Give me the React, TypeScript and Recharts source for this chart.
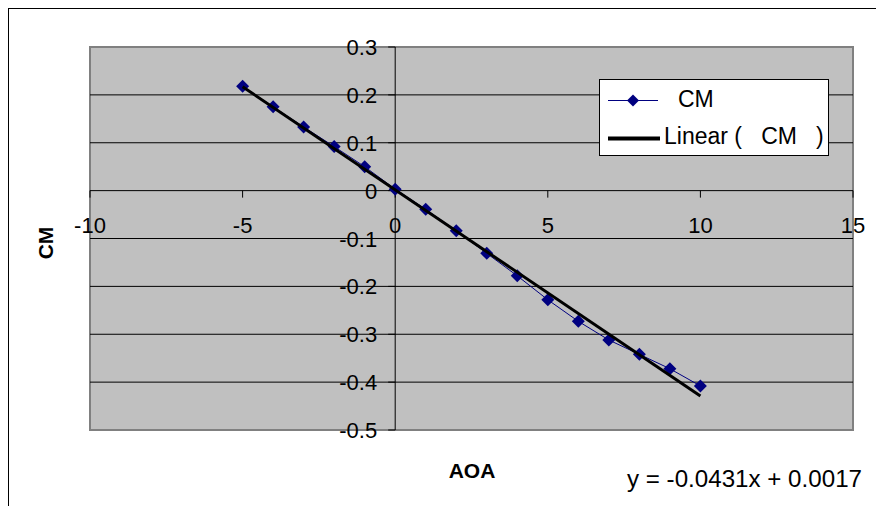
import {
  ScatterChart,
  Scatter,
  XAxis,
  YAxis,
  ReferenceArea,
  ReferenceLine,
  ReferenceDot,
} from 'recharts'

const aoa = [-5, -4, -3, -2, -1, 0, 1, 2, 3, 4, 5, 6, 7, 8, 9, 10]
const cm = [
  0.218, 0.175, 0.133, 0.092, 0.05, 0.003, -0.039, -0.084,
  -0.131, -0.178, -0.228, -0.273, -0.312, -0.342, -0.372, -0.408,
]
// trendline end points, as drawn (y = -0.0431x + 0.0017)
const trendAoa = [-5, 10]
const trendCm = [0.217, -0.429]

const xTicks = [-10, -5, 0, 5, 10, 15]
const yTicks = [-0.5, -0.4, -0.3, -0.2, -0.1, 0, 0.1, 0.2, 0.3]
const gridLines = [-0.4, -0.3, -0.2, -0.1, 0.1, 0.2]

const FONT = '"Liberation Sans", Arial, sans-serif'
const NAVY = '#000080'

const cmData = aoa.map((x, i) => ({ x, y: cm[i] }))
const trendData = trendAoa.map((x, i) => ({ x, y: trendCm[i] }))

function Diamond(props: any) {
  const { cx, cy } = props
  const r = 6.5
  return (
    <polygon
      points={`${cx},${cy - r} ${cx + r},${cy} ${cx},${cy + r} ${cx - r},${cy}`}
      fill={NAVY}
    />
  )
}

const NoDot = () => <g />

function xTickShape(label: string) {
  return (p: any) => (
    <g>
      <line x1={p.cx} y1={p.cy} x2={p.cx} y2={p.cy + 7} stroke="#000" />
      <text x={p.cx} y={p.cy + 42} textAnchor="middle" fontSize={22} fontFamily={FONT} fill="#000">
        {label}
      </text>
    </g>
  )
}

function yTickShape(label: string) {
  return (p: any) => (
    <g>
      <line x1={p.cx - 7} y1={p.cy} x2={p.cx} y2={p.cy} stroke="#000" />
      <text x={p.cx - 18} y={p.cy + 8} textAnchor="end" fontSize={22} fontFamily={FONT} fill="#000">
        {label}
      </text>
    </g>
  )
}

export default function App() {
  return (
    <div
      style={{
        position: 'fixed',
        left: 0,
        top: 0,
        width: 876,
        height: 506,
        overflow: 'hidden',
        background: '#fff',
      }}
    >
      <div
        style={{
          position: 'absolute',
          left: 8,
          top: 8,
          width: 920,
          height: 540,
          border: '1px solid #000',
        }}
      />
      <div style={{ position: 'absolute', left: 0, top: 0 }}>
        <ScatterChart width={876} height={506} margin={{ top: 47, right: 23, bottom: 76, left: 90 }}>
          <XAxis type="number" dataKey="x" domain={[-10, 15]} allowDataOverflow hide />
          <YAxis type="number" dataKey="y" domain={[-0.5, 0.3]} allowDataOverflow hide />
          <ReferenceArea
            x1={-10}
            x2={15}
            y1={-0.5}
            y2={0.3}
            fill="#c0c0c0"
            fillOpacity={1}
            stroke="#808080"
            strokeWidth={2}
          />
          {gridLines.map((v) => (
            <ReferenceLine key={'g' + v} y={v} stroke="#000" strokeWidth={1} />
          ))}
          <ReferenceLine y={0} stroke="#000" strokeWidth={1} />
          <ReferenceLine x={0} stroke="#000" strokeWidth={1} />
          {xTicks.map((t) => (
            <ReferenceDot
              key={'x' + t}
              x={t}
              y={0}
              r={1}
              ifOverflow="visible"
              shape={xTickShape(String(t))}
            />
          ))}
          {yTicks.map((t) => (
            <ReferenceDot
              key={'y' + t}
              x={0}
              y={t}
              r={1}
              ifOverflow="visible"
              shape={yTickShape(String(t))}
            />
          ))}
          <Scatter
            name="CM"
            data={cmData}
            line={{ stroke: NAVY, strokeWidth: 1 }}
            shape={<Diamond />}
            fill={NAVY}
            isAnimationActive={false}
          />
          <Scatter
            name="Linear (CM)"
            data={trendData}
            line={{ stroke: '#000', strokeWidth: 3 }}
            shape={<NoDot />}
            isAnimationActive={false}
          />
        </ScatterChart>
      </div>
      <svg
        width={876}
        height={506}
        style={{ position: 'absolute', left: 0, top: 0, pointerEvents: 'none' }}
      >
        <text
          transform="translate(53,243) rotate(-90)"
          textAnchor="middle"
          fontSize={21}
          fontWeight="bold"
          fontFamily={FONT}
        >
          CM
        </text>
        <text x={472} y={478} textAnchor="middle" fontSize={21} fontWeight="bold" fontFamily={FONT}>
          AOA
        </text>
        <text x={627} y={487} fontSize={23} fontFamily={FONT} textLength={235} lengthAdjust="spacingAndGlyphs">
          y = -0.0431x + 0.0017
        </text>

        <rect x={599.5} y={79.5} width={229} height={76} fill="#fff" stroke="#000" />
        <line x1={608} y1={100.5} x2={658} y2={100.5} stroke={NAVY} strokeWidth={1} />
        <polygon points="633,94.5 639,100.5 633,106.5 627,100.5" fill={NAVY} />
        <text x={678} y={107} fontSize={23} fontFamily={FONT}>
          CM
        </text>
        <line x1={608} y1={138.5} x2={660} y2={138.5} stroke="#000" strokeWidth={4} />
        <text x={664} y={144} fontSize={23} fontFamily={FONT} style={{ whiteSpace: 'pre' }}>
          {'Linear (   CM   )'}
        </text>
      </svg>
    </div>
  )
}
